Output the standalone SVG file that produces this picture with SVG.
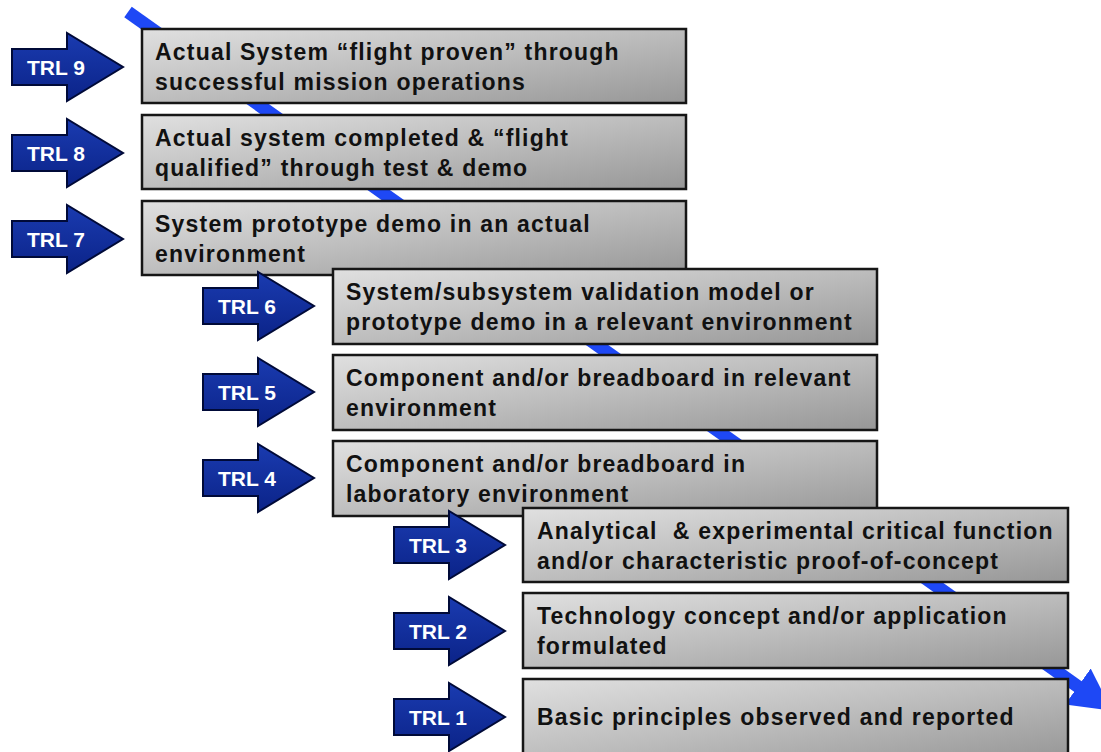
<svg xmlns="http://www.w3.org/2000/svg" width="1101" height="752" viewBox="0 0 1101 752">
  <defs>
    <linearGradient id="boxg" x1="0" y1="0" x2="1" y2="1">
      <stop offset="0" stop-color="#e0e0e0"/>
      <stop offset="0.5" stop-color="#bdbdbd"/>
      <stop offset="1" stop-color="#979797"/>
    </linearGradient>
    <linearGradient id="arrg" x1="0" y1="0" x2="0" y2="1">
      <stop offset="0" stop-color="#1a3bb0"/>
      <stop offset="1" stop-color="#0b2388"/>
    </linearGradient>
    <path id="arr" d="M0,-18 H55 V-34 L111,0 L55,34 V18 H0 Z"/>
    <marker id="bluehead" markerWidth="4" markerHeight="4" refX="0.2" refY="2" orient="auto" markerUnits="strokeWidth">
      <path d="M0,0.3 L3.2,2 L0,3.7 Z" fill="#1e48f5"/>
    </marker>
  </defs>
  <style>
    .box { fill: url(#boxg); stroke: #161616; stroke-width: 2.5; }
    .bt { font-family: "Liberation Sans", Arial, sans-serif; font-weight: bold; font-size: 23px; letter-spacing: 1.2px; fill: #111; white-space: pre; }
    .arrow { fill: url(#arrg); stroke: #000a38; stroke-width: 2; stroke-linejoin: miter; }
    .al { font-family: "Liberation Sans", Arial, sans-serif; font-weight: bold; font-size: 21px; fill: #ffffff; text-anchor: middle; }
  </style>
  <rect width="1101" height="752" fill="#ffffff"/>

  <g id="connectors">
    <line x1="128" y1="12" x2="1080" y2="688" stroke="#1e48f5" stroke-width="13" marker-end="url(#bluehead)"/>
  </g>

  <g id="box-trl9"><rect class="box" x="142" y="29" width="544" height="74"/>
    <text class="bt" x="155" y="60">Actual System “flight proven” through</text>
    <text class="bt" x="155" y="90">successful mission operations</text></g>
  <g id="box-trl8"><rect class="box" x="142" y="115" width="544" height="74"/>
    <text class="bt" x="155" y="146">Actual system completed &amp; “flight</text>
    <text class="bt" x="155" y="176">qualified” through test &amp; demo</text></g>
  <g id="box-trl7"><rect class="box" x="142" y="201" width="544" height="74"/>
    <text class="bt" x="155" y="232">System prototype demo in an actual</text>
    <text class="bt" x="155" y="262">environment</text></g>
  <g id="box-trl6"><rect class="box" x="333" y="269" width="544" height="75"/>
    <text class="bt" x="346" y="300">System/subsystem validation model or</text>
    <text class="bt" x="346" y="330">prototype demo in a relevant environment</text></g>
  <g id="box-trl5"><rect class="box" x="333" y="355" width="544" height="75"/>
    <text class="bt" x="346" y="386">Component and/or breadboard in relevant</text>
    <text class="bt" x="346" y="416">environment</text></g>
  <g id="box-trl4"><rect class="box" x="333" y="441" width="544" height="75"/>
    <text class="bt" x="346" y="472">Component and/or breadboard in</text>
    <text class="bt" x="346" y="502">laboratory environment</text></g>
  <g id="box-trl3"><rect class="box" x="523" y="508" width="545" height="74"/>
    <text class="bt" x="537" y="539">Analytical  &amp; experimental critical function</text>
    <text class="bt" x="537" y="569">and/or characteristic proof-of-concept</text></g>
  <g id="box-trl2"><rect class="box" x="523" y="593" width="545" height="75"/>
    <text class="bt" x="537" y="624">Technology concept and/or application</text>
    <text class="bt" x="537" y="654">formulated</text></g>
  <g id="box-trl1"><rect class="box" x="523" y="679" width="545" height="80"/>
    <text class="bt" x="537" y="725">Basic principles observed and reported</text></g>

  <g id="arrow-trl9"><use href="#arr" class="arrow" transform="translate(12,67)"/><text class="al" x="56" y="75">TRL 9</text></g>
  <g id="arrow-trl8"><use href="#arr" class="arrow" transform="translate(12,153)"/><text class="al" x="56" y="161">TRL 8</text></g>
  <g id="arrow-trl7"><use href="#arr" class="arrow" transform="translate(12,239)"/><text class="al" x="56" y="247">TRL 7</text></g>
  <g id="arrow-trl6"><use href="#arr" class="arrow" transform="translate(203,306)"/><text class="al" x="247" y="314">TRL 6</text></g>
  <g id="arrow-trl5"><use href="#arr" class="arrow" transform="translate(203,392)"/><text class="al" x="247" y="400">TRL 5</text></g>
  <g id="arrow-trl4"><use href="#arr" class="arrow" transform="translate(203,478)"/><text class="al" x="247" y="486">TRL 4</text></g>
  <g id="arrow-trl3"><use href="#arr" class="arrow" transform="translate(394,545)"/><text class="al" x="438" y="553">TRL 3</text></g>
  <g id="arrow-trl2"><use href="#arr" class="arrow" transform="translate(394,631)"/><text class="al" x="438" y="639">TRL 2</text></g>
  <g id="arrow-trl1"><use href="#arr" class="arrow" transform="translate(394,717)"/><text class="al" x="438" y="725">TRL 1</text></g>
</svg>
